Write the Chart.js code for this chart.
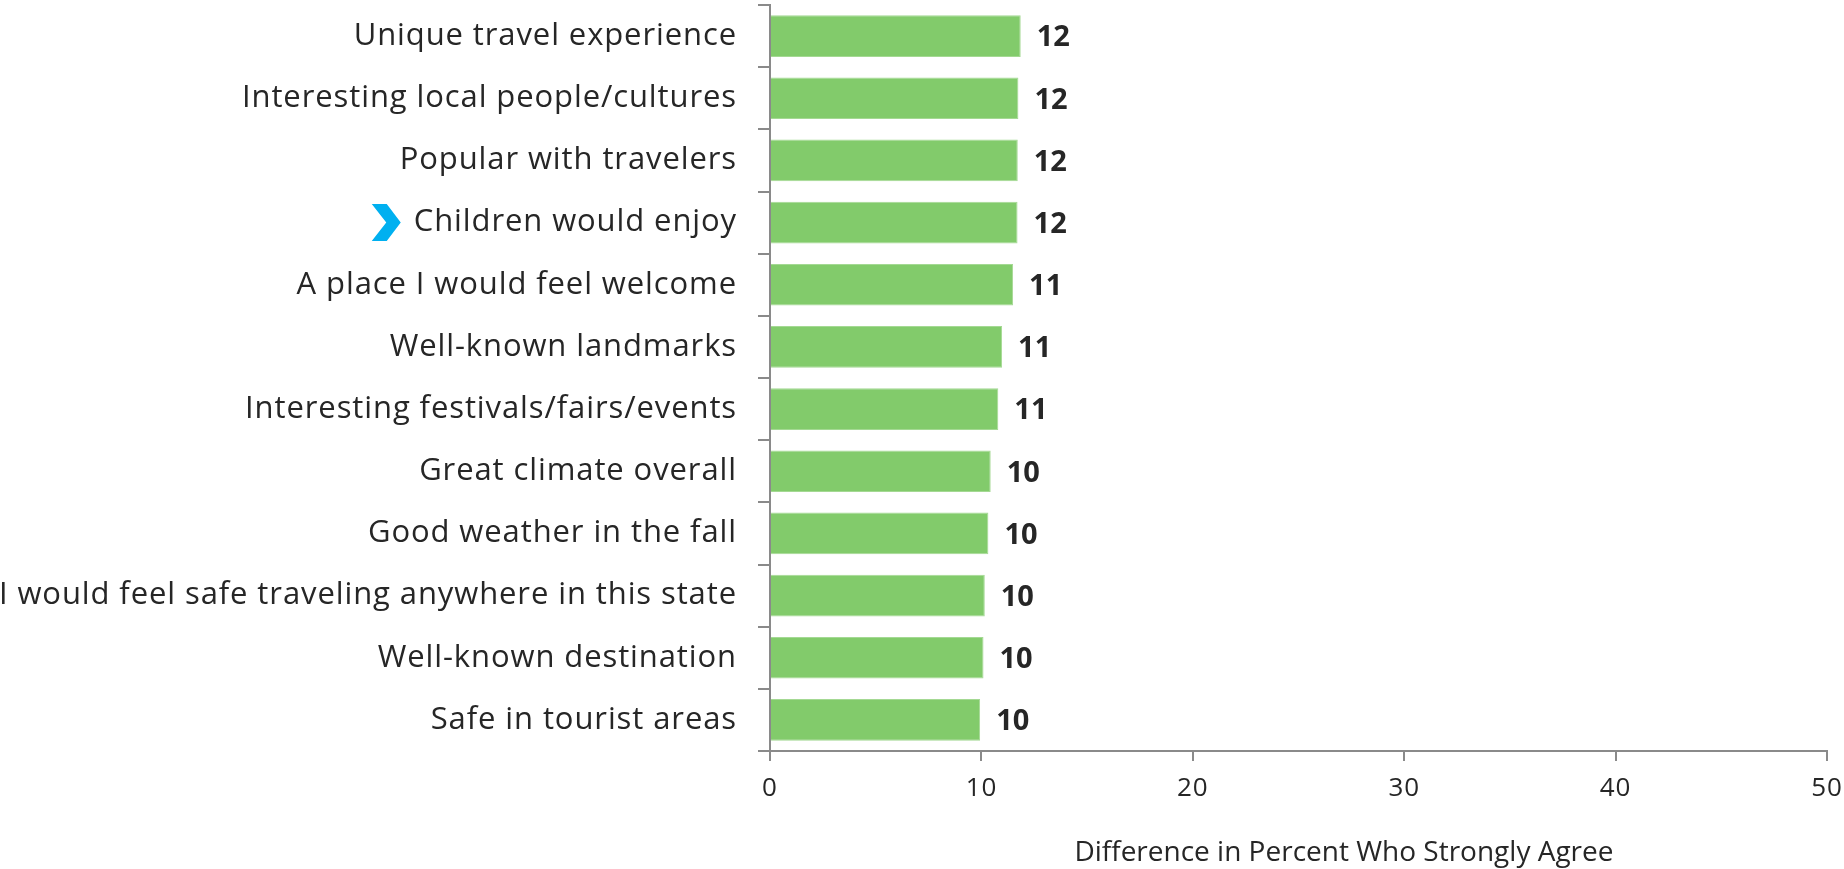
<!DOCTYPE html>
<html>
<head>
<meta charset="utf-8">
<script src="https://cdn.jsdelivr.net/npm/chart.js@4.4.1/dist/chart.umd.min.js"></script>
<style>
  html, body { margin: 0; padding: 0; background: #fff; }
  #wrap { width: 1844px; height: 869px; position: relative; }
</style>
</head>
<body>
<div id="wrap"><canvas id="chart"></canvas></div>
<script>
// categories, top to bottom
var categories = [
    'Unique travel experience',
    'Interesting local people/cultures',
    'Popular with travelers',
    'Children would enjoy',
    'A place I would feel welcome',
    'Well-known landmarks',
    'Interesting festivals/fairs/events',
    'Great climate overall',
    'Good weather in the fall',
    'I would feel safe traveling anywhere in this state',
    'Well-known destination',
    'Safe in tourist areas'
];
// bar lengths
var diffValues = [11.86, 11.75, 11.72, 11.71, 11.5, 10.98, 10.8, 10.44, 10.33, 10.16, 10.1, 9.94];
// numbers printed next to the bars
var valueLabels = ['12', '12', '12', '12', '11', '11', '11', '10', '10', '10', '10', '10'];
var xTicks = [0, 10, 20, 30, 40, 50];
var xTitle = 'Difference in Percent Who Strongly Agree';
var markedCategory = 'Children would enjoy';

var FONT = '"Open Sans"';
var TEXT = '#262626';
var AXIS = '#8a8a8a';
var LABEL_SPACING = '0.9px';

// value labels, chevron marker and the axis title
var extrasPlugin = {
    id: 'extras',
    beforeDraw: function(chart){
        // category labels look a bit looser than Open Sans
        chart.ctx.letterSpacing = LABEL_SPACING;
    },
    beforeDatasetsDraw: function(chart){
        chart.ctx.letterSpacing = '0px';
    },
    afterDatasetsDraw: function(chart){
        var ctx = chart.ctx;
        var meta = chart.getDatasetMeta(0);
        ctx.save();
        ctx.font = 'bold 29px ' + FONT;
        ctx.fillStyle = TEXT;
        ctx.textAlign = 'left';
        ctx.textBaseline = 'middle';
        meta.data.forEach(function(bar, i){
            ctx.fillText(valueLabels[i], bar.x + 16, bar.y + 2);
        });
        ctx.restore();
    },
    afterDraw: function(chart){
        var ctx = chart.ctx;
        var y = chart.scales.y;
        var x = chart.scales.x;

        // blue chevron in front of the marked label
        var idx = categories.indexOf(markedCategory);
        var cy = y.getPixelForValue(idx);
        ctx.save();
        ctx.font = '31px ' + FONT;
        ctx.letterSpacing = LABEL_SPACING;
        var labelRight = y.right - 12 - 21;
        var labelLeft = labelRight - ctx.measureText(markedCategory).width;
        var r = labelLeft - 13;
        ctx.fillStyle = '#00b0f0';
        ctx.beginPath();
        ctx.moveTo(r - 29, cy - 18.5);
        ctx.lineTo(r - 14, cy - 18.5);
        ctx.lineTo(r, cy);
        ctx.lineTo(r - 14, cy + 18.5);
        ctx.lineTo(r - 29, cy + 18.5);
        ctx.lineTo(r - 14.5, cy);
        ctx.closePath();
        ctx.fill();

        // axis title
        ctx.letterSpacing = '0px';
        ctx.font = '28px ' + FONT;
        ctx.fillStyle = TEXT;
        ctx.textAlign = 'center';
        ctx.textBaseline = 'middle';
        ctx.fillText(xTitle, x.left + x.width * 0.543, 853);
        ctx.restore();
    }
};

var ctx = document.getElementById('chart');
var chart = new Chart(ctx, {
    type: 'bar',
    data: {
        labels: categories,
        datasets: [{
            data: diffValues,
            backgroundColor: '#82cb6b',
            borderColor: '#a4d993',
            borderWidth: 1,
            borderSkipped: 'start',
            barPercentage: 0.67,
            categoryPercentage: 1
        }]
    },
    options: {
        indexAxis: 'y',
        responsive: true,
        maintainAspectRatio: false,
        animation: false,
        layout: { padding: { top: 5, right: 17, left: 0, bottom: 0 } },
        plugins: {
            legend: { display: false },
            tooltip: { enabled: false }
        },
        scales: {
            x: {
                min: 0,
                max: 50,
                afterBuildTicks: function(scale){
                    scale.ticks = xTicks.map(function(v){ return { value: v }; });
                },
                afterFit: function(scale){
                    scale.height = 118;
                    scale.paddingLeft = 0;
                    scale.paddingRight = 0;
                },
                border: { color: AXIS, width: 2 },
                grid: {
                    drawOnChartArea: false,
                    drawTicks: true,
                    tickLength: 10,
                    color: AXIS,
                    lineWidth: 2
                },
                ticks: {
                    color: TEXT,
                    padding: 12,
                    font: { family: FONT, size: 26 },
                    maxRotation: 0
                }
            },
            y: {
                afterFit: function(scale){
                    scale.width = 770;
                    scale.paddingTop = 0;
                    scale.paddingBottom = 0;
                },
                border: { color: AXIS, width: 2 },
                grid: {
                    offset: true,
                    drawOnChartArea: false,
                    drawTicks: true,
                    tickLength: 12,
                    color: AXIS,
                    lineWidth: 2
                },
                ticks: {
                    color: TEXT,
                    padding: 21,
                    autoSkip: false,
                    font: { family: FONT, size: 31 }
                }
            }
        }
    },
    plugins: [extrasPlugin]
});
</script>
</body>
</html>
